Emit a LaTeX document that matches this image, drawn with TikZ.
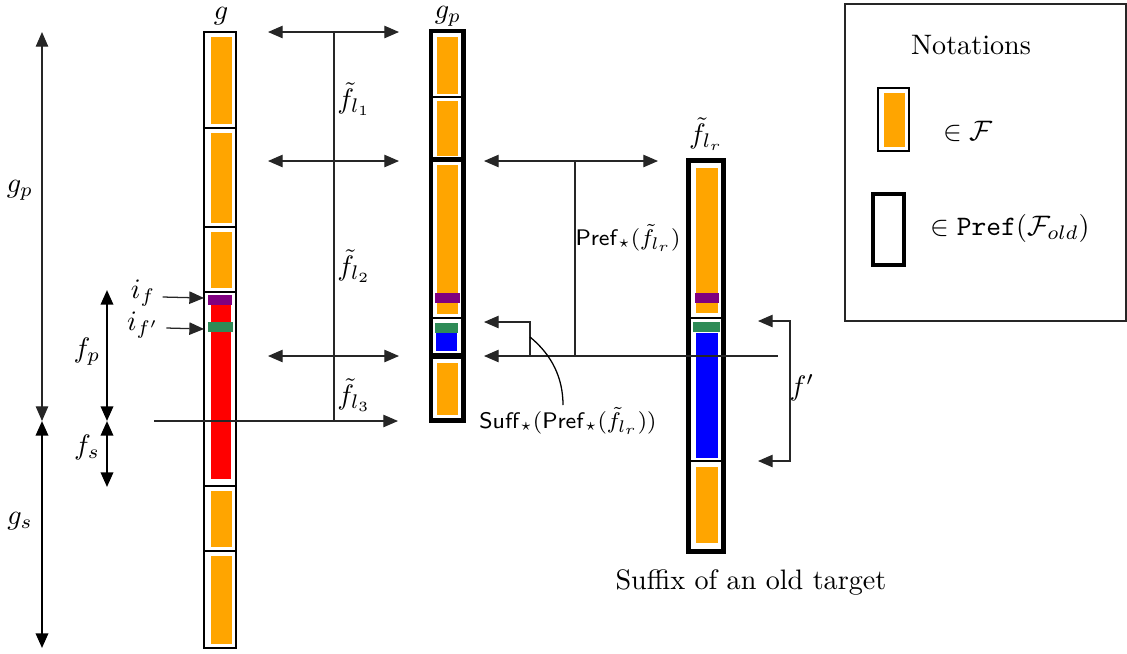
\documentclass[tikz,border=0pt]{standalone}
\usepackage{amsmath}
\usepackage{amsfonts}
\usepackage{amssymb}
\usepackage{tikz}
\usetikzlibrary{arrows.meta}

\definecolor{f_orange}{RGB}{255,165,0}
\definecolor{f_purple}{RGB}{128,0,128}
\definecolor{f_green}{RGB}{46,139,87}
\definecolor{f_blue}{RGB}{0,0,255}
\definecolor{f_red}{RGB}{255,0,0}

\begin{document}
\begin{tikzpicture}[x=0.355pt, y=-0.355pt,
		>={Triangle[length=5.2pt,width=4.4pt]},
		elem_style/.style={draw=black, line width=0.45pt},
		pref_style/.style={draw=black, line width=1.5pt},
		fill_style/.style={fill=f_orange, draw=white, line width=0.3pt},
		line_style/.style={draw=black!85, line width=0.45pt},
		label_style/.style={inner sep=1pt},
		small_label/.style={inner sep=1pt, font=\footnotesize}]

		\useasboundingbox (0,0) rectangle (1127,653);

		% column g
		\foreach \ya/\yb in {32/128,128/227,227/292,486/551,551/648}
		{
			\draw[elem_style] (204,\ya) rectangle (236,\yb);
			\draw[fill_style] (210,\ya+4) rectangle (232,\yb-4);
		}
		\draw[elem_style] (204,292) rectangle (236,486);
		\draw[fill=f_red, draw=white, line width=0.3pt] (210,294) rectangle (231,479);
		\fill[f_purple] (208,295) rectangle (232,305);
		\fill[f_green] (208,322) rectangle (233,332);

		% column g_p
		\draw[elem_style] (432,32) rectangle (462,97);
		\draw[elem_style] (432,97) rectangle (462,159);
		\draw[elem_style] (432,161) rectangle (462,318);
		\draw[elem_style] (432,318) rectangle (462,354);
		\draw[elem_style] (432,358) rectangle (462,419);
		\draw[fill_style] (436,36) rectangle (458,94);
		\draw[fill_style] (436,100) rectangle (458,156);
		\draw[fill_style] (436,164) rectangle (458,314);
		\fill[f_purple] (435,293) rectangle (460,303);
		\fill[f_green] (435,323) rectangle (458,333);
		\fill[f_blue] (436,333) rectangle (457,351);
		\draw[fill_style] (436,362) rectangle (458,415);
		\draw[pref_style] (431,31) rectangle (464,159);
		\draw[pref_style] (431,160) rectangle (464,356);
		\draw[pref_style] (431,356) rectangle (464,421);

		% column f_lr
		\draw[elem_style] (690,162) rectangle (722,318);
		\draw[elem_style] (690,318) rectangle (722,461);
		\draw[elem_style] (690,461) rectangle (722,550);
		\draw[fill_style] (695,167) rectangle (718,313);
		\fill[f_purple] (695,293) rectangle (719,303);
		\fill[f_green] (693,322) rectangle (720,332);
		\draw[fill=f_blue, draw=white, line width=0.3pt] (695,332) rectangle (718,458);
		\draw[fill_style] (695,466) rectangle (718,543);
		\draw[pref_style] (688,160) rectangle (724,552);

		% titles
		\node[label_style] (g_lab) at (221,16) {$g$};
		\node[label_style] (gp_lab) at (448,16) {$g_p$};
		\node[label_style] (flr_lab) at (706,134) {$\tilde{f}_{l_r}$};
		\node[label_style] (old_lab) at (751,582) {Suffix of an old target};

		% left arrows
		\coordinate (gp_top) at (42,32);
		\coordinate (gp_bot) at (42,421);
		\coordinate (gs_bot) at (42,648);
		\coordinate (fp_top) at (107,290);
		\coordinate (fp_bot) at (107,421);
		\coordinate (fs_bot) at (107,487);
		\draw[line_style, <->] (gp_top) -- (gp_bot);
		\draw[<->, line width=0.8pt] (gp_bot) -- (gs_bot);
		\draw[<->, line width=0.8pt] (fp_top) -- (fp_bot);
		\draw[<->, line width=0.8pt] (fp_bot) -- (fs_bot);
		\node[label_style] (gp_side) at (20,190) {$g_p$};
		\node[label_style] (gs_side) at (20,521) {$g_s$};
		\node[label_style] (fp_side) at (87,352) {$f_p$};
		\node[label_style] (fs_side) at (87,447) {$f_s$};

		% i_f and i_f'
		\node[label_style] (if_lab) at (143,293) {$i_f$};
		\node[label_style] (ifp_lab) at (143,325) {$i_{f'}$};
		\coordinate (if_tip) at (204,298);
		\coordinate (ifp_tip) at (204,329);
		\draw[line_style, ->] (if_lab.east) ++(4,4) -- (if_tip);
		\draw[line_style, ->] (ifp_lab.east) ++(4,3) -- (ifp_tip);

		% f_l1, f_l2, f_l3
		\coordinate (a1_l) at (268,32);
		\coordinate (a1_r) at (399,32);
		\coordinate (a2_l) at (268,161);
		\coordinate (a2_r) at (399,161);
		\coordinate (a3_l) at (268,356);
		\coordinate (a3_r) at (399,356);
		\coordinate (a4_l) at (154,421);
		\coordinate (a4_r) at (398,421);
		\coordinate (mid_top) at (334,32);
		\coordinate (mid_bot) at (334,421);
		\draw[line_style, <->] (a1_l) -- (a1_r);
		\draw[line_style, <->] (a2_l) -- (a2_r);
		\draw[line_style, <->] (a3_l) -- (a3_r);
		\draw[line_style, ->] (a4_l) -- (a4_r);
		\draw[line_style] (mid_top) -- (mid_bot);
		\node[label_style] (fl1_lab) at (354,99) {$\tilde{f}_{l_1}$};
		\node[label_style] (fl2_lab) at (354,266) {$\tilde{f}_{l_2}$};
		\node[label_style] (fl3_lab) at (354,395) {$\tilde{f}_{l_3}$};

		% Pref and Suff
		\coordinate (b1_l) at (484,161);
		\coordinate (b1_r) at (658,161);
		\coordinate (b2_l) at (484,356);
		\coordinate (b2_r) at (778,356);
		\coordinate (b3_l) at (484,322);
		\coordinate (b3_c) at (530,322);
		\coordinate (b3_b) at (530,356);
		\coordinate (pref_top) at (575,161);
		\coordinate (pref_bot) at (575,356);
		\draw[line_style, <->] (b1_l) -- (b1_r);
		\draw[line_style] (pref_top) -- (pref_bot);
		\draw[line_style, <-] (b2_l) -- (b2_r);
		\draw[line_style, <-] (b3_l) -- (b3_c) -- (b3_b);
		\node[small_label] (pref_lab) at (628,238) {$\mathsf{Pref}_\star(\tilde{f}_{l_r})$};
		\node[small_label] (suff_lab) at (568,421) {$\mathsf{Suff}_\star(\mathsf{Pref}_\star(\tilde{f}_{l_r}))$};
		\coordinate (suff_c) at (530,337);
		\coordinate (suff_end) at (563,405);
		\draw[black, line width=0.45pt] (suff_c) .. controls (552,355) and (563,378) .. (suff_end);

		% f'
		\coordinate (fpr_top) at (758,321);
		\coordinate (fpr_bot) at (758,461);
		\draw[line_style, <->] (fpr_top) -- (790,321) -- (790,461) -- (fpr_bot);
		\node[label_style] (fpr_lab) at (802,388) {$f'$};

		% legend
		\draw[line_style] (845,4) rectangle (1126,321);
		\node[label_style] (leg_title) at (971,45) {Notations};
		\draw[elem_style] (878,88) rectangle (909,151);
		\draw[fill_style] (883,92) rectangle (905,147);
		\node[label_style] (leg_f) at (968,131) {$\in \mathcal{F}$};
		\draw[pref_style] (873,194) rectangle (904,265);
		\node[label_style] (leg_pref) at (1010,228) {$\in \mathtt{Pref}(\mathcal{F}_{old})$};

\end{tikzpicture}
\end{document}
